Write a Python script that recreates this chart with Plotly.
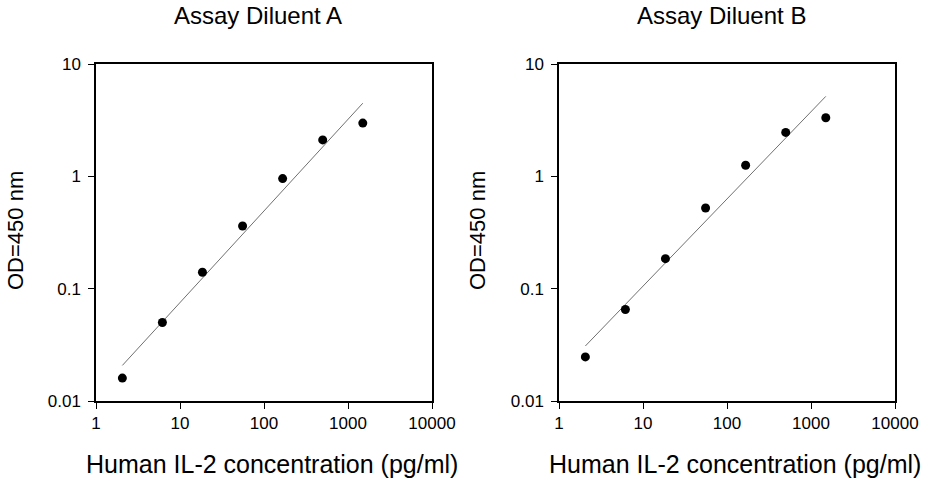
import plotly.graph_objects as go
import numpy as np

# IL-2 standard curve, 3-fold dilutions (pg/ml)
conc = [2.06, 6.17, 18.5, 55.6, 166.7, 500, 1500]
od_a = [0.016, 0.050, 0.140, 0.361, 0.955, 2.11, 2.98]
od_b = [0.0247, 0.0652, 0.185, 0.523, 1.256, 2.46, 3.32]

panel_titles = ['Assay Diluent A', 'Assay Diluent B']
x_title = 'Human IL-2 concentration (pg/ml)'
y_title = 'OD=450 nm'
x_ticks = [1, 10, 100, 1000, 10000]
y_ticks = [0.01, 0.1, 1, 10]
y_ticktext = ['0.01', '0.1', '1', '10']

FONT = 'Liberation Sans, Arial, sans-serif'


def loglog_fit(x, y):
    # straight line in log-log space, drawn over the standards' range
    lx, ly = np.log10(x), np.log10(y)
    slope, icpt = np.polyfit(lx, ly, 1)
    xs = np.array([min(x), max(x)])
    return xs, 10 ** (icpt + slope * np.log10(xs))


fig = go.Figure()

for i, od in enumerate([od_a, od_b]):
    xa = 'x' if i == 0 else 'x2'
    ya = 'y' if i == 0 else 'y2'
    fx, fy = loglog_fit(conc, od)
    fig.add_trace(go.Scatter(x=fx, y=fy, mode='lines', xaxis=xa, yaxis=ya,
                             line=dict(color='#707070', width=1), showlegend=False))
    fig.add_trace(go.Scatter(x=conc, y=od, mode='markers', xaxis=xa, yaxis=ya,
                             marker=dict(color='black', size=9), showlegend=False))

W, H = 926, 480


def px_x(v):
    return v / W


def px_y(v):
    return 1 - v / H


x_doms = [[px_x(96), px_x(432)], [px_x(559), px_x(895)]]
y_dom = [px_y(401), px_y(64)]

axis_common = dict(
    type='log', showgrid=False, zeroline=False, automargin=False,
    showline=True, linecolor='black', linewidth=1.5, mirror=True,
    ticks='outside', ticklen=6, tickcolor='black', tickwidth=1.2,
    tickfont=dict(family=FONT, size=17, color='black'),
)

fig.update_layout(
    xaxis=dict(domain=x_doms[0], range=[0, 4], tickvals=x_ticks,
               ticktext=[str(t) for t in x_ticks], anchor='y', **axis_common),
    yaxis=dict(domain=y_dom, range=[-2, 1], tickvals=y_ticks, ticklabelstandoff=4,
               ticktext=y_ticktext, anchor='x', **axis_common),
    xaxis2=dict(domain=x_doms[1], range=[0, 4], tickvals=x_ticks,
                ticktext=[str(t) for t in x_ticks], anchor='y2', **axis_common),
    yaxis2=dict(domain=y_dom, range=[-2, 1], tickvals=y_ticks, ticklabelstandoff=4,
                ticktext=y_ticktext, anchor='x2', **axis_common),
    width=W, height=H,
    margin=dict(l=0, r=0, t=0, b=0),
    paper_bgcolor='white', plot_bgcolor='white',
    font=dict(family=FONT, color='black'),
)

annots = []
for i in range(2):
    cx = (x_doms[i][0] + x_doms[i][1]) / 2
    common = dict(xref='paper', yref='paper', showarrow=False,
                  xanchor='center', yanchor='middle')
    annots.append(dict(text=panel_titles[i], x=cx - 6 / W, y=px_y(16),
                       font=dict(size=24, family=FONT), **common))
    annots.append(dict(text=x_title, x=cx + 8 / W, y=px_y(464),
                       font=dict(size=25, family=FONT), **common))
    annots.append(dict(text=y_title, x=px_x(16 if i == 0 else 478), y=px_y(231),
                       textangle=-90, font=dict(size=22, family=FONT), **common))
fig.update_layout(annotations=annots)

# drop the default body margin so the 926x480 figure fills the window
fig.write_html('out.html', config={'displayModeBar': False},
               post_script="document.body.style.margin='0px';")
